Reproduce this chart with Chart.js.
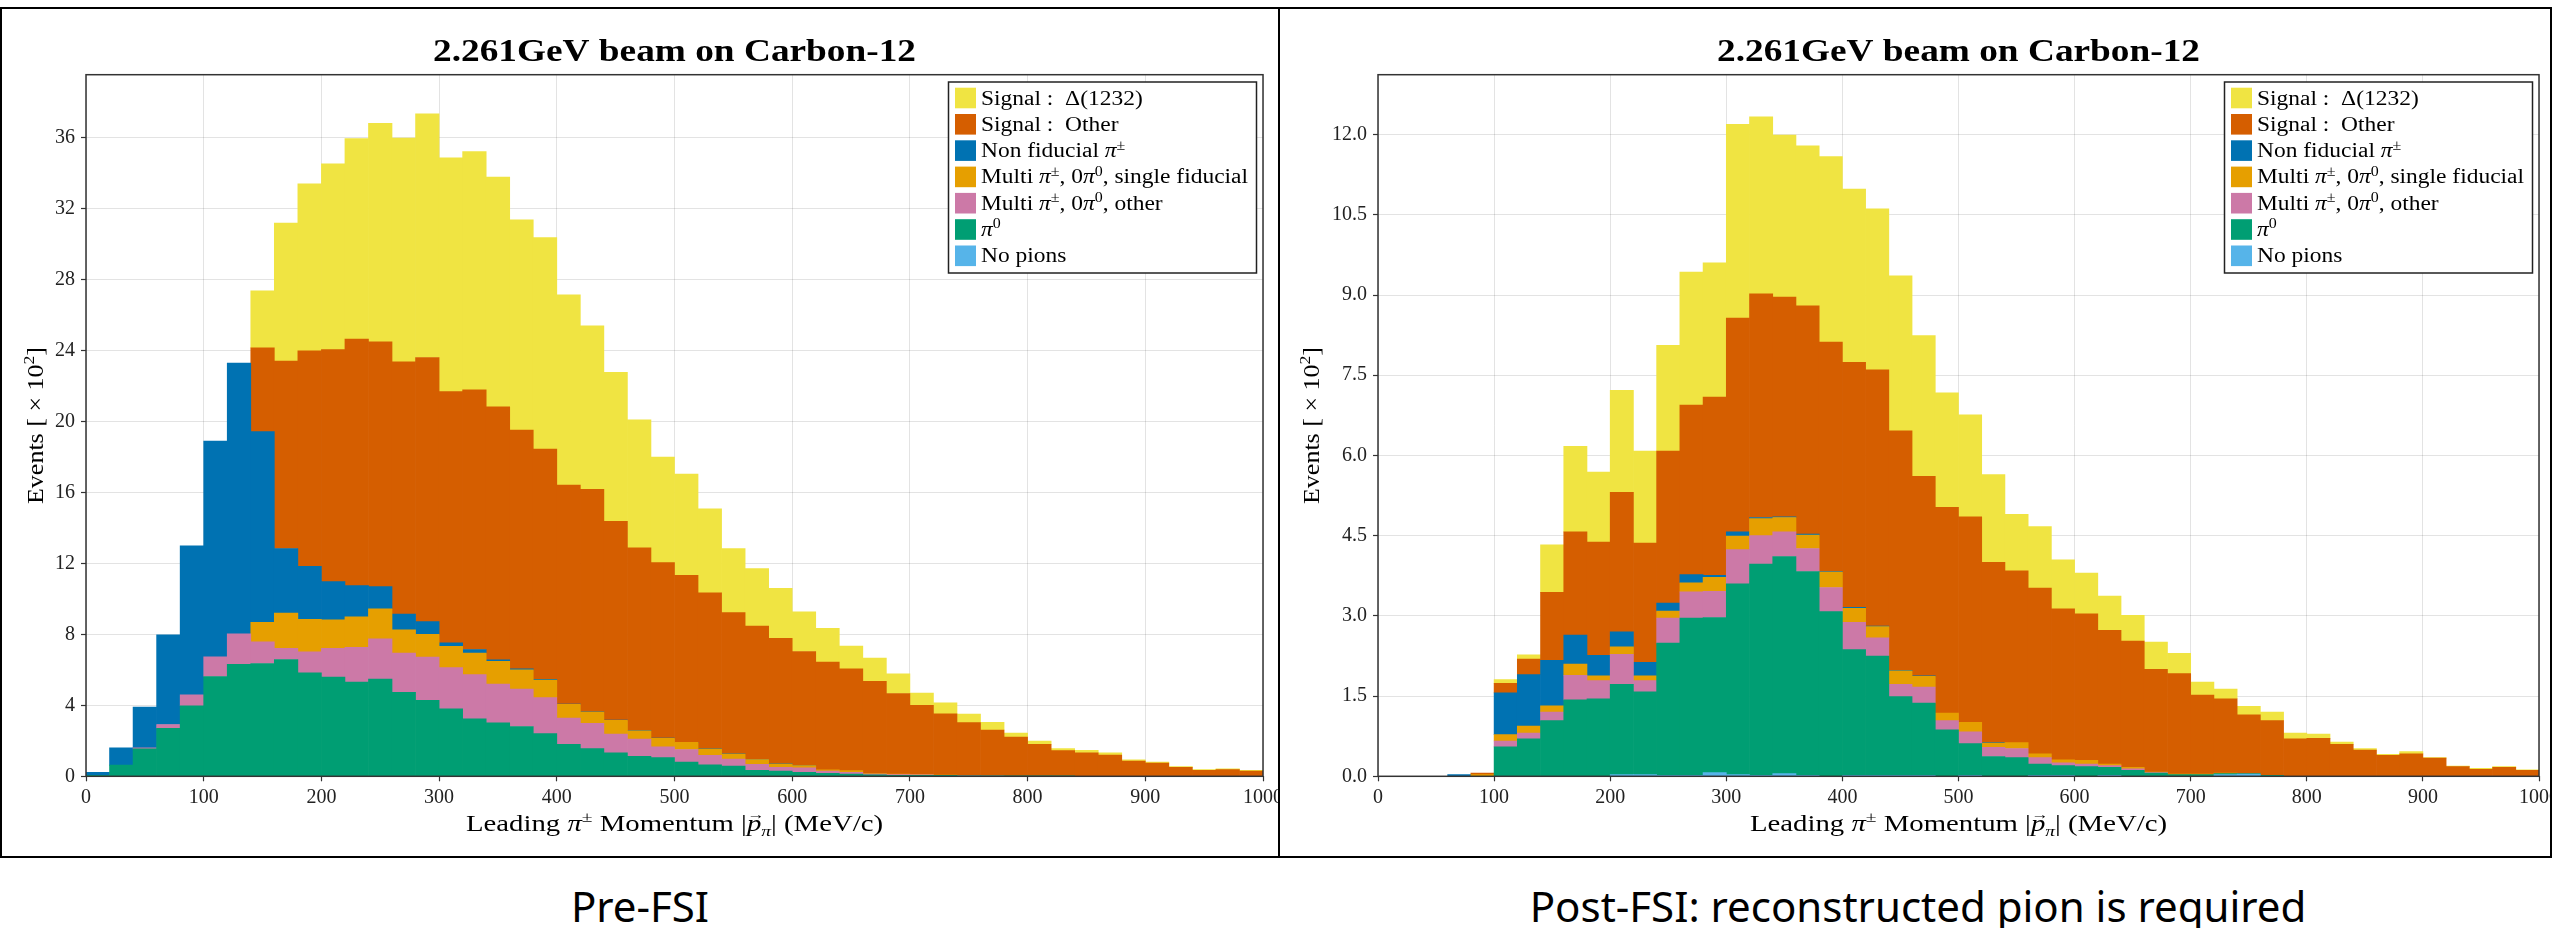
<!DOCTYPE html>
<html>
<head>
<meta charset="utf-8">
<script src="https://cdn.jsdelivr.net/npm/chart.js@4.4.1/dist/chart.umd.min.js"></script>
<style>
  html, body { margin: 0; padding: 0; background: #fff; }
  body { width: 2552px; height: 928px; position: relative; overflow: hidden; }
  .panel { position: absolute; top: 7px; height: 851px; border: 2px solid #000; box-sizing: border-box; }
  .panel canvas { position: absolute; left: 0; top: 0; }
  .caption { position: absolute; top: 885px; width: 1000px; text-align: center;
             font-family: "Noto Sans", sans-serif; font-size: 42px; line-height: 42px; color: #000; }
</style>
</head>
<body>
<div class="panel" style="left:0; width:1280px;"><canvas id="preChart" width="1276" height="847"></canvas></div>
<div class="panel" style="left:1278px; width:1274px;"><canvas id="postChart" width="1270" height="847"></canvas></div>
<div class="caption" style="left:140px;">Pre-FSI</div>
<div class="caption" style="left:1418px;">Post-FSI: reconstructed pion is required</div>

<script>
// bin centres, 20 MeV/c wide bins
const momentumBins = [10, 30, 50, 70, 90, 110, 130, 150, 170, 190,
  210, 230, 250, 270, 290, 310, 330, 350, 370, 390,
  410, 430, 450, 470, 490, 510, 530, 550, 570, 590,
  610, 630, 650, 670, 690, 710, 730, 750, 770, 790,
  810, 830, 850, 870, 890, 910, 930, 950, 970, 990];

// stack order, bottom to top (^ = superscript, _ = subscript, ~ = vector)
const seriesLabels = ['No pions', 'π^0', 'Multi π^±, 0π^0, other', 'Multi π^±, 0π^0, single fiducial',
  'Non fiducial π^±', 'Signal :  Other', 'Signal :  Δ(1232)'];
const seriesColors = ['#56B4E9', '#009E73', '#CC79A7', '#E69F00', '#0072B2', '#D55E00', '#F0E442'];

const chartTitle = '2.261GeV beam on Carbon-12';
const xTitle = 'Leading π^± Momentum |~p_π| (MeV/c)';
const yTitle = 'Events [ × 10^2]';
const xTicks = [0, 100, 200, 300, 400, 500, 600, 700, 800, 900, 1000];

// Pre-FSI, events x 10^2
const preNoPions = [0, 0, 0, 0, 0, 0, 0, 0, 0, 0, 0, 0, 0, 0, 0, 0, 0, 0, 0, 0, 0, 0, 0, 0, 0,
  0, 0, 0, 0, 0, 0, 0, 0, 0, 0, 0, 0, 0, 0, 0, 0, 0, 0, 0, 0, 0, 0, 0, 0, 0];
const prePi0 = [0.05, 0.63, 1.55, 2.71, 3.98, 5.63, 6.31, 6.36, 6.59, 5.83,
  5.6, 5.32, 5.48, 4.74, 4.28, 3.8, 3.24, 3.02, 2.81, 2.41,
  1.81, 1.56, 1.33, 1.12, 1.05, 0.8, 0.65, 0.57, 0.34, 0.29,
  0.23, 0.17, 0.13, 0.08, 0.06, 0.06, 0.05, 0.03, 0.02, 0.02,
  0.02, 0.01, 0, 0, 0, 0, 0, 0, 0, 0];
const preMultiOther = [0, 0, 0.05, 0.21, 0.61, 1.11, 1.73, 1.22, 0.63, 1.19,
  1.62, 1.95, 2.28, 2.21, 2.44, 2.33, 2.49, 2.18, 2.11, 2.03,
  1.47, 1.43, 1.05, 0.98, 0.61, 0.71, 0.53, 0.4, 0.33, 0.22,
  0.25, 0.12, 0.1, 0.05, 0.04, 0.02, 0.01, 0.01, 0.01, 0,
  0, 0, 0, 0, 0, 0, 0, 0, 0, 0];
const preMultiSingle = [0, 0, 0, 0, 0, 0, 0, 1.11, 1.98, 1.83,
  1.6, 1.73, 1.69, 1.31, 1.29, 1.2, 1.22, 1.29, 1.08, 0.98,
  0.78, 0.63, 0.78, 0.47, 0.48, 0.4, 0.36, 0.29, 0.28, 0.18,
  0.13, 0.07, 0.09, 0.02, 0.02, 0.02, 0.01, 0.01, 0.01, 0,
  0, 0, 0, 0, 0, 0, 0, 0, 0, 0];
const preNonFid = [0.18, 0.97, 2.3, 5.06, 8.41, 12.16, 15.26, 10.75, 3.65, 2.99,
  2.16, 1.75, 1.25, 0.89, 0.71, 0.2, 0.2, 0.08, 0.06, 0.05,
  0.02, 0.01, 0.01, 0.01, 0.01, 0.01, 0.01, 0.01, 0.01, 0.01,
  0.01, 0, 0, 0, 0, 0, 0, 0, 0, 0,
  0, 0, 0, 0, 0, 0, 0, 0, 0, 0];
const preOther = [0, 0, 0, 0, 0, 0, 0, 4.72, 10.57, 12.16,
  13.08, 13.91, 13.81, 14.22, 14.9, 14.17, 14.65, 14.27, 13.46, 12.98,
  12.35, 12.56, 11.21, 10.31, 9.9, 9.42, 8.8, 7.96, 7.51, 7.08,
  6.42, 6.08, 5.74, 5.21, 4.55, 3.9, 3.46, 2.98, 2.57, 2.19,
  1.79, 1.44, 1.33, 1.2, 0.86, 0.74, 0.51, 0.34, 0.38, 0.3];
const preDelta = [0, 0, 0, 0, 0, 0, 0, 3.22, 7.78, 9.41,
  10.49, 11.31, 12.32, 12.63, 13.74, 13.18, 13.44, 12.95, 11.86, 11.94,
  10.72, 9.22, 8.4, 7.22, 5.95, 5.7, 4.73, 3.62, 3.24, 2.82,
  2.23, 1.91, 1.28, 1.31, 1.11, 0.69, 0.61, 0.48, 0.44, 0.23,
  0.17, 0.11, 0.14, 0.12, 0.07, 0.06, 0.04, 0.04, 0.04, 0.04];

// Post-FSI, events x 10^2
const postNoPions = [0, 0, 0, 0, 0, 0, 0, 0, 0, 0,
  0.03, 0.03, 0.02, 0.02, 0.07, 0.03, 0.02, 0.05, 0.02, 0,
  0.02, 0.02, 0.02, 0.02, 0, 0.02, 0, 0, 0.02, 0.02,
  0, 0.02, 0, 0, 0, 0, 0.03, 0.04, 0, 0,
  0, 0, 0, 0, 0, 0, 0, 0, 0, 0];
const postPi0 = [0, 0, 0, 0, 0, 0.55, 0.7, 1.04, 1.43, 1.45,
  1.69, 1.55, 2.47, 2.94, 2.9, 3.57, 3.95, 4.06, 3.81, 3.08,
  2.35, 2.23, 1.47, 1.35, 0.87, 0.59, 0.37, 0.35, 0.21, 0.18,
  0.18, 0.15, 0.11, 0.06, 0.03, 0.03, 0.02, 0.01, 0.02, 0,
  0, 0, 0, 0, 0, 0, 0, 0, 0, 0];
const postMultiOther = [0, 0, 0, 0, 0, 0.11, 0.11, 0.16, 0.46, 0.34,
  0.56, 0.21, 0.47, 0.49, 0.49, 0.64, 0.53, 0.46, 0.43, 0.45,
  0.51, 0.34, 0.23, 0.3, 0.17, 0.22, 0.17, 0.17, 0.12, 0.05,
  0.05, 0.03, 0.03, 0.01, 0, 0, 0, 0, 0, 0,
  0, 0, 0, 0, 0, 0, 0, 0, 0, 0];
const postMultiSingle = [0, 0, 0, 0, 0.03, 0.12, 0.13, 0.12, 0.21, 0.09,
  0.14, 0.09, 0.13, 0.17, 0.26, 0.25, 0.32, 0.27, 0.25, 0.29,
  0.26, 0.21, 0.25, 0.2, 0.14, 0.18, 0.08, 0.11, 0.07, 0.06,
  0.07, 0.03, 0.03, 0.01, 0.01, 0.01, 0.01, 0, 0, 0,
  0, 0, 0, 0, 0, 0, 0, 0, 0, 0];
const postNonFid = [0, 0, 0, 0.03, 0, 0.78, 0.96, 0.85, 0.54, 0.38,
  0.28, 0.25, 0.15, 0.15, 0.04, 0.08, 0.02, 0.01, 0.02, 0.01,
  0.02, 0.01, 0.01, 0.01, 0, 0, 0.01, 0, 0, 0,
  0, 0, 0, 0, 0, 0, 0, 0, 0, 0,
  0, 0, 0, 0, 0, 0, 0, 0, 0, 0];
const postOther = [0, 0, 0, 0, 0.03, 0.18, 0.29, 1.27, 1.93, 2.12,
  2.61, 2.23, 2.84, 3.17, 3.33, 4.0, 4.18, 4.11, 4.27, 4.29,
  4.58, 4.79, 4.48, 3.73, 3.85, 3.84, 3.37, 3.21, 3.1, 2.82,
  2.74, 2.5, 2.36, 1.92, 1.88, 1.48, 1.39, 1.1, 1.02, 0.7,
  0.71, 0.6, 0.49, 0.39, 0.42, 0.34, 0.18, 0.13, 0.17, 0.11];
const postDelta = [0, 0, 0, 0, 0, 0.07, 0.08, 0.89, 1.6, 1.31,
  1.91, 1.72, 1.98, 2.49, 2.51, 3.62, 3.31, 3.03, 2.99, 3.47,
  3.24, 3.01, 2.9, 2.63, 2.14, 1.91, 1.64, 1.06, 1.15, 0.92,
  0.76, 0.64, 0.48, 0.51, 0.38, 0.24, 0.18, 0.16, 0.16, 0.11,
  0.08, 0.04, 0.03, 0.02, 0.04, 0.01, 0.01, 0.02, 0.01, 0.01];

const SERIF = '"Liberation Serif", "Times New Roman", serif';

// tiny math-ish text renderer: ^x superscript, _x subscript, ~x vector, π italic
function parseRich(str) {
  const segs = [];
  for (let i = 0; i < str.length; i++) {
    let c = str[i], kind = 'n';
    if (c === '^' || c === '_' || c === '~') { kind = c; c = str[++i]; }
    segs.push({ c: c, kind: kind, it: c === 'π' || kind === '~' });
  }
  return segs;
}
function segFont(seg, size, weight) {
  const s = (seg.kind === '^' || seg.kind === '_') ? size * 0.68 : size;
  return (seg.it ? 'italic ' : '') + weight + ' ' + s + 'px ' + SERIF;
}
function richWidth(ctx, segs, size, weight) {
  let w = 0;
  segs.forEach(s => { ctx.font = segFont(s, size, weight); w += ctx.measureText(s.c).width; });
  return w;
}
function drawRich(ctx, str, x, y, o) {
  const size = o.size, weight = o.weight || 'normal';
  const segs = parseRich(str);
  const w = richWidth(ctx, segs, size, weight);
  const sx = o.width ? o.width / w : (o.stretch || 1);
  ctx.save();
  ctx.translate(x, y);
  if (o.rotate) ctx.rotate(-Math.PI / 2);
  ctx.scale(sx, 1);
  ctx.fillStyle = o.color || '#000';
  ctx.textBaseline = 'alphabetic';
  ctx.textAlign = 'left';
  let cx = o.align === 'left' ? 0 : -w / 2;
  segs.forEach(s => {
    ctx.font = segFont(s, size, weight);
    const cw = ctx.measureText(s.c).width;
    let dy = 0;
    if (s.kind === '^') dy = -size * 0.38;
    if (s.kind === '_') dy = size * 0.2;
    ctx.fillText(s.c, cx, dy);
    if (s.kind === '~') {
      ctx.font = (size * 0.6) + 'px ' + SERIF;
      const aw = ctx.measureText('→').width;
      ctx.fillText('→', cx + cw / 2 - aw / 2 + 1.5, -size * 0.52);
    }
    cx += cw;
  });
  ctx.restore();
  return w * sx;
}

// frame, title, axis titles and legend
const panelDecor = {
  id: 'panelDecor',
  afterDraw(chart, args, opts) {
    const ctx = chart.ctx, a = chart.chartArea;
    ctx.save();
    ctx.strokeStyle = '#333';
    ctx.lineWidth = 1.5;
    ctx.strokeRect(a.left, a.top, a.right - a.left, a.bottom - a.top);

    const mid = (a.left + a.right) / 2;
    drawRich(ctx, chartTitle, mid, 52, { size: 32, weight: 'bold', width: 483 });
    drawRich(ctx, xTitle, mid, a.bottom + 54.7, { size: 23, width: 417 });
    drawRich(ctx, yTitle, opts.yTitleX, (a.top + a.bottom) / 2, { size: 23, width: 157, rotate: true });

    // legend box, top right of the plot area
    const bw = 308, bh = 191;
    const bx = a.right - 6.5 - bw, by = a.top + 7.3;
    ctx.fillStyle = '#fff';
    ctx.fillRect(bx, by, bw, bh);
    ctx.strokeStyle = '#222';
    ctx.lineWidth = 1.5;
    ctx.strokeRect(bx, by, bw, bh);
    const items = chart.data.datasets.slice().reverse();
    let maxW = 0;
    items.forEach(d => { maxW = Math.max(maxW, richWidth(ctx, parseRich(d.label), 20, 'normal')); });
    const sx = 267 / maxW;
    items.forEach((d, i) => {
      const rowY = by + 16 + i * 26.3;
      ctx.fillStyle = d.backgroundColor;
      ctx.fillRect(bx + 6.5, rowY - 10.3, 21, 20.6);
      drawRich(ctx, d.label, bx + 32.5, rowY + 6.5, { size: 20, align: 'left', stretch: sx });
    });
    ctx.restore();
  }
};

function buildDatasets(seriesValues) {
  return seriesValues.map((vals, k) => ({
    label: seriesLabels[k],
    data: momentumBins.map((x, i) => ({ x: x, y: vals[i] > 0 ? vals[i] : null })),
    backgroundColor: seriesColors[k],
    borderWidth: 0,
    barPercentage: 1,
    categoryPercentage: 1
  }));
}

function makeChart(id, seriesValues, yMax, yStep, yDigits, geo) {
  const gridColor = 'rgba(0,0,0,0.11)';
  return new Chart(document.getElementById(id), {
    type: 'bar',
    data: { datasets: buildDatasets(seriesValues) },
    options: {
      responsive: false,
      animation: false,
      events: [],
      layout: { padding: { top: 65.7, right: geo.padRight, left: 0, bottom: 0 } },
      plugins: {
        legend: { display: false },
        title: { display: false },
        tooltip: { enabled: false },
        panelDecor: { yTitleX: geo.yTitleX }
      },
      scales: {
        x: {
          type: 'linear',
          stacked: true,
          offset: false,
          min: 0,
          max: 1000,
          afterBuildTicks: s => { s.ticks = xTicks.map(v => ({ value: v })); },
          afterFit: s => { s.height = 79.7; s.paddingLeft = 0; s.paddingRight = 0; },
          border: { display: false },
          grid: { color: gridColor, lineWidth: 1, offset: false, tickLength: 5, tickColor: '#333', tickWidth: 1.2 },
          ticks: {
            autoSkip: false, maxRotation: 0, padding: 4, color: '#222',
            font: { family: SERIF, size: 20 },
            callback: v => String(v)
          }
        },
        y: {
          stacked: true,
          min: 0,
          max: yMax,
          afterFit: s => { s.width = geo.yWidth; s.paddingTop = 0; s.paddingBottom = 0; },
          border: { display: false },
          grid: { color: gridColor, lineWidth: 1, tickLength: 5, tickColor: '#333', tickWidth: 1.2 },
          ticks: {
            stepSize: yStep,
            includeBounds: false,
            padding: 6,
            color: '#222',
            font: { family: SERIF, size: 20 },
            callback: v => v.toFixed(yDigits)
          }
        }
      }
    },
    plugins: [panelDecor]
  });
}

makeChart('preChart',
  [preNoPions, prePi0, preMultiOther, preMultiSingle, preNonFid, preOther, preDelta],
  39.57, 4, 0, { yWidth: 84, padRight: 15, yTitleX: 41 });
makeChart('postChart',
  [postNoPions, postPi0, postMultiOther, postMultiSingle, postNonFid, postOther, postDelta],
  13.12, 1.5, 1, { yWidth: 98, padRight: 11, yTitleX: 39 });
</script>
</body>
</html>
